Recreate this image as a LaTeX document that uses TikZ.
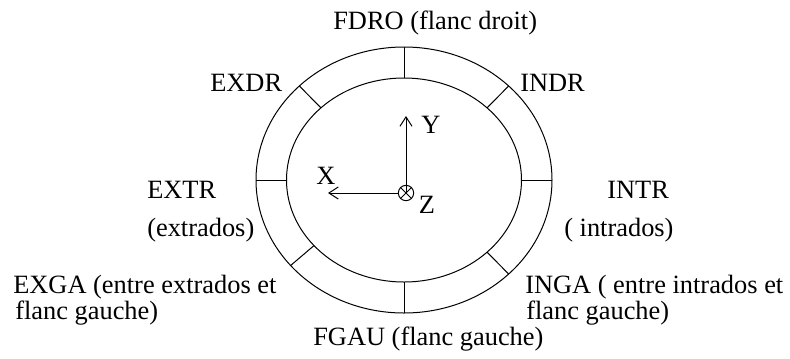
\documentclass[tikz,border=0pt]{standalone}
\usepackage{fontspec}
\setmainfont{Liberation Serif}
\usepackage{tikz}
\usetikzlibrary{calc,arrows.meta}

\begin{document}
\begin{tikzpicture}[x=0.75pt,y=0.75pt,yscale=-1,xscale=1,
  lbl/.style={anchor=base west,inner sep=0pt,font=\fontsize{19.8}{24}\selectfont},
  axlbl/.style={inner sep=0pt,font=\fontsize{19.8}{24}\selectfont},
  ax/.style={line width=0.75pt,-{Straight Barb[length=7pt,width=9pt]}}]
\useasboundingbox (0,0) rectangle (790,358);

%Ellipses
\coordinate (c) at (404,180);
\draw [line width=0.75pt] (c) ellipse [x radius=148, y radius=133];
\draw [line width=0.75pt] (c) ellipse [x radius=117.5, y radius=102];

%Dividers
\foreach \a in {0,45,90,140,180,225,270,315}
  \draw [line width=0.75pt] ($(c)+(\a:148 and 133)$) -- ($(c)+(\a:117.5 and 102)$);

%Axes
\node (zc) [circle,draw,line width=0.75pt,minimum size=11.5pt,inner sep=0pt] at (406,193) {};
\draw [line width=0.75pt] (zc.north west) -- (zc.south east) (zc.north east) -- (zc.south west);
\coordinate (ytip) at (406,116);
\coordinate (xtip) at (328,193);
\draw [ax] (zc.center) -- (ytip);
\draw [ax] (zc.west) -- (xtip);
\node (ylbl) [axlbl] at (431,125) {Y};
\node (xlbl) [axlbl] at (326,176) {X};
\node (zlbl) [axlbl] at (427,205) {Z};

% Text Node
\node (fdro) [lbl] at (333,29) {FDRO (flanc droit)};
% Text Node
\node (exdr) [lbl] at (210,91) {EXDR};
% Text Node
\node (indr) [lbl] at (520,91) {INDR};
% Text Node
\node (extr) [lbl] at (147,198) {EXTR};
% Text Node
\node (extrb) [lbl] at (147,236) {(extrados)};
% Text Node
\node (intr) [lbl] at (607,198) {INTR};
% Text Node
\node (intrb) [lbl] at (564,236) {( intrados)};
% Text Node
\node (exga) [lbl] at (13,293) {EXGA (entre extrados et};
% Text Node
\node (exgab) [lbl] at (15,319) {flanc gauche)};
% Text Node
\node (inga) [lbl] at (525,293) {INGA ( entre intrados et};
% Text Node
\node (ingab) [lbl] at (526,319) {flanc gauche)};
% Text Node
\node (fgau) [lbl] at (313,345) {FGAU (flanc gauche)};

\end{tikzpicture}
\end{document}
